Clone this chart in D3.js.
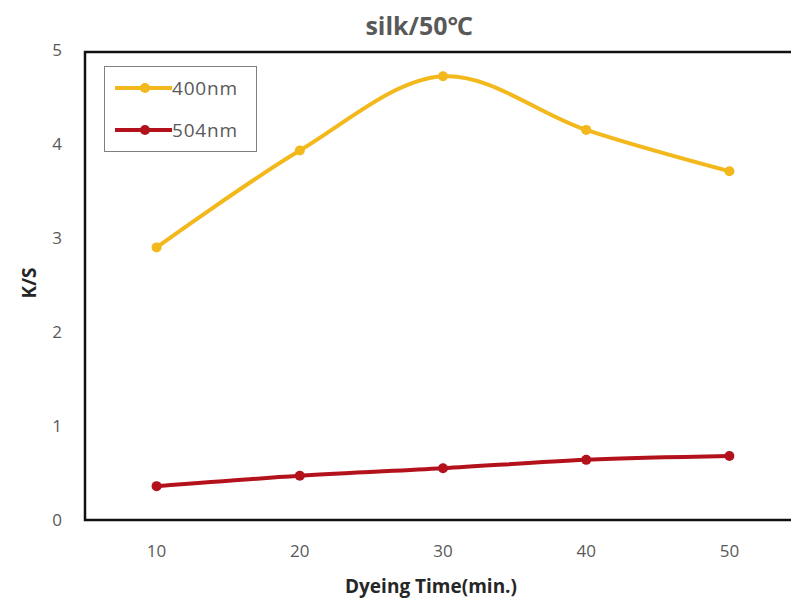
<!DOCTYPE html>
<html>
<head>
<meta charset="utf-8">
<script src="https://cdn.jsdelivr.net/npm/d3@7"></script>
<style>
  body { margin: 0; background: #fff; }
  text { font-family: "Open Sans", "Noto Sans", sans-serif; }
</style>
</head>
<body>
<div id="chart-area"></div>
<script>
const times = [10, 20, 30, 40, 50];
const ks400 = [2.90, 3.93, 4.72, 4.15, 3.71];
const ks504 = [0.36, 0.47, 0.55, 0.64, 0.68];
const yTicks = [0, 1, 2, 3, 4, 5];

const width = 791, height = 603;
const plotLeft = 85, plotTop = 52, plotBottom = 520;

const svg = d3.select("#chart-area").append("svg")
    .attr("width", width)
    .attr("height", height);

const x = d3.scaleLinear().domain([5, 55]).range([plotLeft, 801]);
const y = d3.scaleLinear().domain([0, 5]).range([plotBottom, 50]);

// plot frame (right side runs off the picture)
svg.append("path")
    .attr("d", `M${width + 5},${plotTop}H${plotLeft}V${plotBottom}H${width + 5}`)
    .attr("fill", "none")
    .attr("stroke", "#111")
    .attr("stroke-width", 2.5);

// tick labels
svg.append("g").selectAll("text")
    .data(yTicks)
    .join("text")
    .attr("x", 57)
    .attr("y", d => y(d))
    .attr("dy", "0.35em")
    .attr("text-anchor", "middle")
    .attr("fill", "#595959")
    .attr("font-size", 17)
    .text(d => d);

svg.append("g").selectAll("text")
    .data(times)
    .join("text")
    .attr("x", d => x(d))
    .attr("y", 557)
    .attr("text-anchor", "middle")
    .attr("fill", "#595959")
    .attr("font-size", 17)
    .text(d => d);

// titles
svg.append("text")
    .attr("x", 419).attr("y", 35)
    .attr("text-anchor", "middle")
    .attr("font-size", 25).attr("font-weight", "bold")
    .attr("fill", "#595959")
    .text("silk/50℃");

svg.append("text")
    .attr("x", 431).attr("y", 593)
    .attr("text-anchor", "middle")
    .attr("font-size", 19).attr("font-weight", "bold")
    .attr("fill", "#262626")
    .text("Dyeing Time(min.)");

svg.append("text")
    .attr("transform", "translate(36,283) rotate(-90)")
    .attr("text-anchor", "middle")
    .attr("font-size", 19).attr("font-weight", "bold")
    .attr("fill", "#262626")
    .text("K/S");

const series = [
    {name: "400nm", values: ks400, color: "#F2B81C"},
    {name: "504nm", values: ks504, color: "#B3121C"}
];

const line = d3.line()
    .x((d, i) => x(times[i]))
    .y(d => y(d))
    .curve(d3.curveCatmullRom);

series.forEach(s => {
    svg.append("path")
        .attr("d", line(s.values))
        .attr("fill", "none")
        .attr("stroke", s.color)
        .attr("stroke-width", 4);
    svg.append("g").selectAll("circle")
        .data(s.values)
        .join("circle")
        .attr("cx", (d, i) => x(times[i]))
        .attr("cy", d => y(d))
        .attr("r", 5)
        .attr("fill", s.color);
});

// legend
const legend = svg.append("g");
legend.append("rect")
    .attr("x", 104.5).attr("y", 66.5)
    .attr("width", 152).attr("height", 85)
    .attr("fill", "#fff")
    .attr("stroke", "#7f7f7f")
    .attr("stroke-width", 1);

series.forEach((s, i) => {
    const ly = 88 + i * 42;
    legend.append("line")
        .attr("x1", 115).attr("x2", 172)
        .attr("y1", ly).attr("y2", ly)
        .attr("stroke", s.color)
        .attr("stroke-width", 4);
    legend.append("circle")
        .attr("cx", 145).attr("cy", ly).attr("r", 5)
        .attr("fill", s.color);
    legend.append("text")
        .attr("x", 172).attr("y", ly)
        .attr("dy", "0.35em")
        .attr("font-size", 19)
        .attr("letter-spacing", 0.8)
        .attr("fill", "#595959")
        .text(s.name);
});
</script>
</body>
</html>
